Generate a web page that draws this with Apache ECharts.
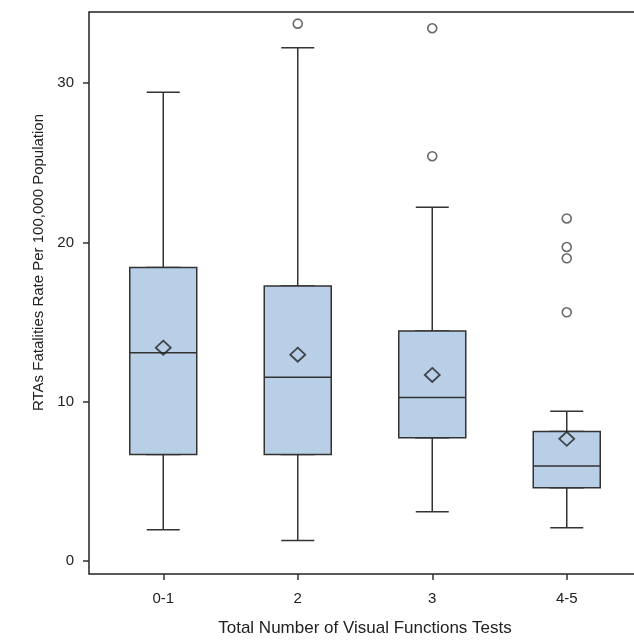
<!DOCTYPE html>
<html>
<head>
<meta charset="utf-8">
<script src="https://cdn.jsdelivr.net/npm/echarts@6/dist/echarts.min.js"></script>
<style>
html, body { margin: 0; padding: 0; background: #fff; }
#container { width: 634px; height: 641px; }
</style>
</head>
<body>
<div id="container"></div>
<script>
var categories = ['0-1', '2', '3', '4-5'];
// [low whisker, Q1, median, Q3, high whisker]
var boxStats = [
    [1.96, 6.68, 13.08, 18.43, 29.42],
    [1.29, 6.68, 11.53, 17.26, 32.22],
    [3.09, 7.73, 10.26, 14.44, 22.21],
    [2.09, 4.60, 5.96, 8.13, 9.40]
];
var means = [13.39, 12.95, 11.68, 7.67];
var outliers = [
    ['2', 33.73],
    ['3', 33.44],
    ['3', 25.41],
    ['4-5', 21.50],
    ['4-5', 19.71],
    ['4-5', 19.00],
    ['4-5', 15.61]
];
var yTicks = [0, 10, 20, 30];

var dom = document.getElementById('container');
var myChart = echarts.init(dom);

// box only: whiskers collapsed onto the box edges
var boxOnly = boxStats.map(function (d) {
    return [d[1], d[1], d[2], d[3], d[3]];
});

var fontFamily = "'Liberation Sans', Arial, sans-serif";

var option = {
    animation: false,
    backgroundColor: '#ffffff',
    grid: [
        { left: 96, right: 0, top: 12, bottom: 67, outerBoundsMode: 'none' },
        { left: 89, width: 560, top: 12, bottom: 67, show: true, outerBoundsMode: 'none',
          borderColor: '#222', borderWidth: 1.5, backgroundColor: 'transparent' }
    ],
    xAxis: [
        {
            type: 'category',
            gridIndex: 0,
            data: categories,
            boundaryGap: true,
            axisLine: { show: false, onZero: false },
            axisTick: { show: true, alignWithLabel: true, length: 6, lineStyle: { color: '#333', width: 1.5 } },
            axisLabel: { fontSize: 15, color: '#222', margin: 17, fontFamily: fontFamily },
            splitLine: { show: false },
            name: 'Total Number of Visual Functions Tests',
            nameLocation: 'middle',
            nameGap: 46,
            nameTextStyle: { fontSize: 17, color: '#222', fontFamily: fontFamily }
        },
        { type: 'value', gridIndex: 1, show: false },
        // twin axis for the whisker layer, so the two boxplots are not dodged
        { type: 'category', gridIndex: 0, data: categories, boundaryGap: true, show: false }
    ],
    yAxis: [
        {
            type: 'value',
            gridIndex: 0,
            min: -0.815,
            max: 34.46,
            offset: 7,
            axisLine: { show: false },
            axisTick: { show: true, length: 6, customValues: yTicks, lineStyle: { color: '#333', width: 1.5 } },
            axisLabel: { fontSize: 15, color: '#222', margin: 15, customValues: yTicks, fontFamily: fontFamily },
            splitLine: { show: false },
            name: 'RTAs Fatalities Rate Per 100,000 Population',
            nameLocation: 'middle',
            nameRotate: 90,
            nameGap: 40,
            nameTextStyle: { fontSize: 15, color: '#222', fontFamily: fontFamily, padding: [0, 0, 0, 61] }
        },
        { type: 'value', gridIndex: 1, show: false }
    ],
    series: [
        {
            name: 'whiskers',
            type: 'boxplot',
            xAxisIndex: 2,
            yAxisIndex: 0,
            boxWidth: [33, 33],
            data: boxStats,
            z: 2,
            itemStyle: { color: 'transparent', borderColor: '#333', borderWidth: 1.5 },
            emphasis: { disabled: true }
        },
        {
            name: 'box',
            type: 'boxplot',
            xAxisIndex: 0,
            yAxisIndex: 0,
            boxWidth: [67, 67],
            data: boxOnly,
            z: 3,
            itemStyle: { color: '#b9cfe8', borderColor: '#333', borderWidth: 1.5 },
            emphasis: { disabled: true }
        },
        {
            name: 'mean',
            type: 'scatter',
            xAxisIndex: 0,
            yAxisIndex: 0,
            symbol: 'diamond',
            symbolSize: [15, 14],
            z: 4,
            data: means.map(function (v, i) { return [categories[i], v]; }),
            itemStyle: { color: 'rgba(0,0,0,0)', borderColor: '#222', borderWidth: 1.8 },
            emphasis: { disabled: true }
        },
        {
            name: 'outliers',
            type: 'scatter',
            xAxisIndex: 0,
            yAxisIndex: 0,
            symbol: 'circle',
            symbolSize: 9,
            z: 4,
            data: outliers,
            itemStyle: { color: '#ffffff', borderColor: '#444', borderWidth: 1.6 },
            emphasis: { disabled: true }
        }
    ]
};

if (option && typeof option === "object") {
    myChart.setOption(option, true);
}
</script>
</body>
</html>
